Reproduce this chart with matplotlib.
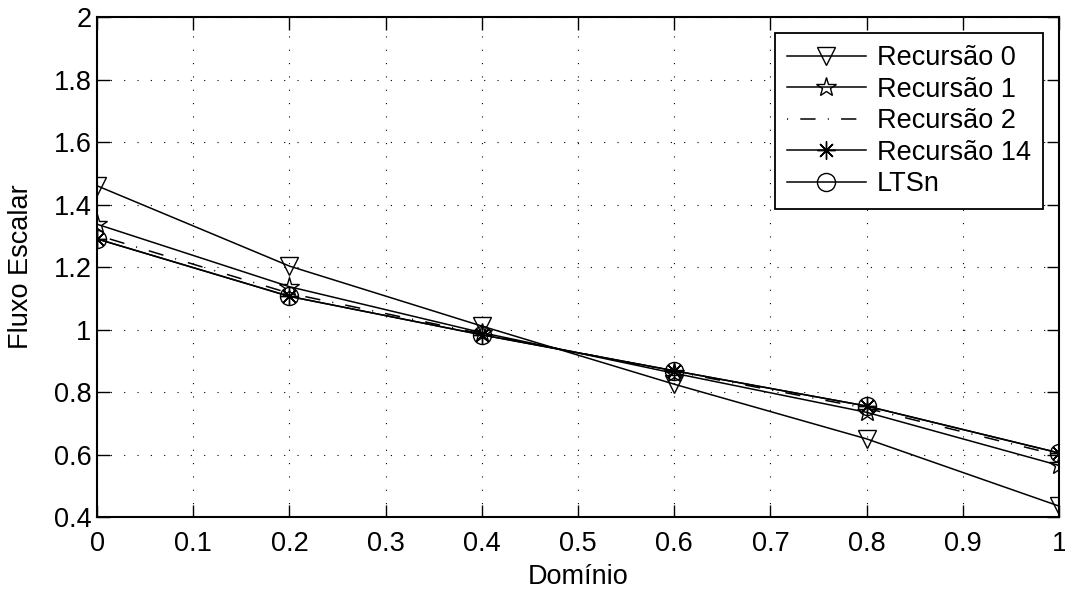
import matplotlib
matplotlib.use("Agg")
import matplotlib.pyplot as plt

x = [0.0, 0.2, 0.4, 0.6, 0.8, 1.0]
rec0 = [1.46, 1.203, 1.011, 0.825, 0.650, 0.435]
rec1 = [1.337, 1.137, 0.990, 0.860, 0.735, 0.565]
rec2 = [1.302, 1.116, 0.986, 0.866, 0.748, 0.597]
rec14 = [1.290, 1.106, 0.983, 0.868, 0.755, 0.605]
ltsn = [1.290, 1.106, 0.983, 0.868, 0.755, 0.605]

xticks = [0, 0.1, 0.2, 0.3, 0.4, 0.5, 0.6, 0.7, 0.8, 0.9, 1.0]
xticklabels = ["0", "0.1", "0.2", "0.3", "0.4", "0.5", "0.6", "0.7", "0.8", "0.9", "1"]
yticks = [0.4, 0.6, 0.8, 1.0, 1.2, 1.4, 1.6, 1.8, 2.0]
yticklabels = ["0.4", "0.6", "0.8", "1", "1.2", "1.4", "1.6", "1.8", "2"]

plt.rcParams["font.family"] = ["Liberation Sans", "DejaVu Sans"]
FS = 19.5

fig = plt.figure(figsize=(10.65, 5.91), dpi=100)
ax = fig.add_axes([0.0911, 0.1252, 0.9033, 0.846])

lw = 1.1
ms = 13
ax.plot(x, rec0, "k-", lw=lw, marker="v", ms=ms, mfc="none", mew=1.0, label="Recursão 0")
ax.plot(x, rec1, "k-", lw=lw, marker="*", ms=ms + 2, mfc="none", mew=1.0, label="Recursão 1")
ax.plot(x, rec2, color="k", lw=lw, ls=(0, (0.7, 8, 10, 8)), label="Recursão 2")
ax.plot(x, rec14, "k-", lw=lw, marker=(8, 2, 0), ms=ms, mew=1.0, label="Recursão 14")
ax.plot(x, ltsn, "k-", lw=lw, marker="o", ms=ms, mfc="none", mew=1.0, label="LTSn")

ax.set_xlim(0, 1)
ax.set_ylim(0.4, 2)
ax.set_xticks(xticks)
ax.set_xticklabels(xticklabels)
ax.set_yticks(yticks)
ax.set_yticklabels(yticklabels)
ax.tick_params(direction="in", length=9, width=1.0, top=True, right=True,
               labelsize=FS)
ax.tick_params(axis="x", pad=10)
ax.tick_params(axis="y", pad=4)
ax.grid(True, color="k", lw=0.8, ls=(0, (1, 11)))
for s in ax.spines.values():
    s.set_linewidth(1.5)

ax.set_xlabel("Domínio", fontsize=FS, labelpad=5)
ax.set_ylabel("Fluxo Escalar", fontsize=FS, labelpad=14)

leg = ax.legend(loc="upper right", fontsize=FS, handlelength=2.9, fancybox=False,
                edgecolor="k", framealpha=1, borderaxespad=0.6, labelspacing=0.2,
                handletextpad=0.4, borderpad=0.45)
leg.get_frame().set_linewidth(1.3)

fig.savefig("out.png", dpi=100)
